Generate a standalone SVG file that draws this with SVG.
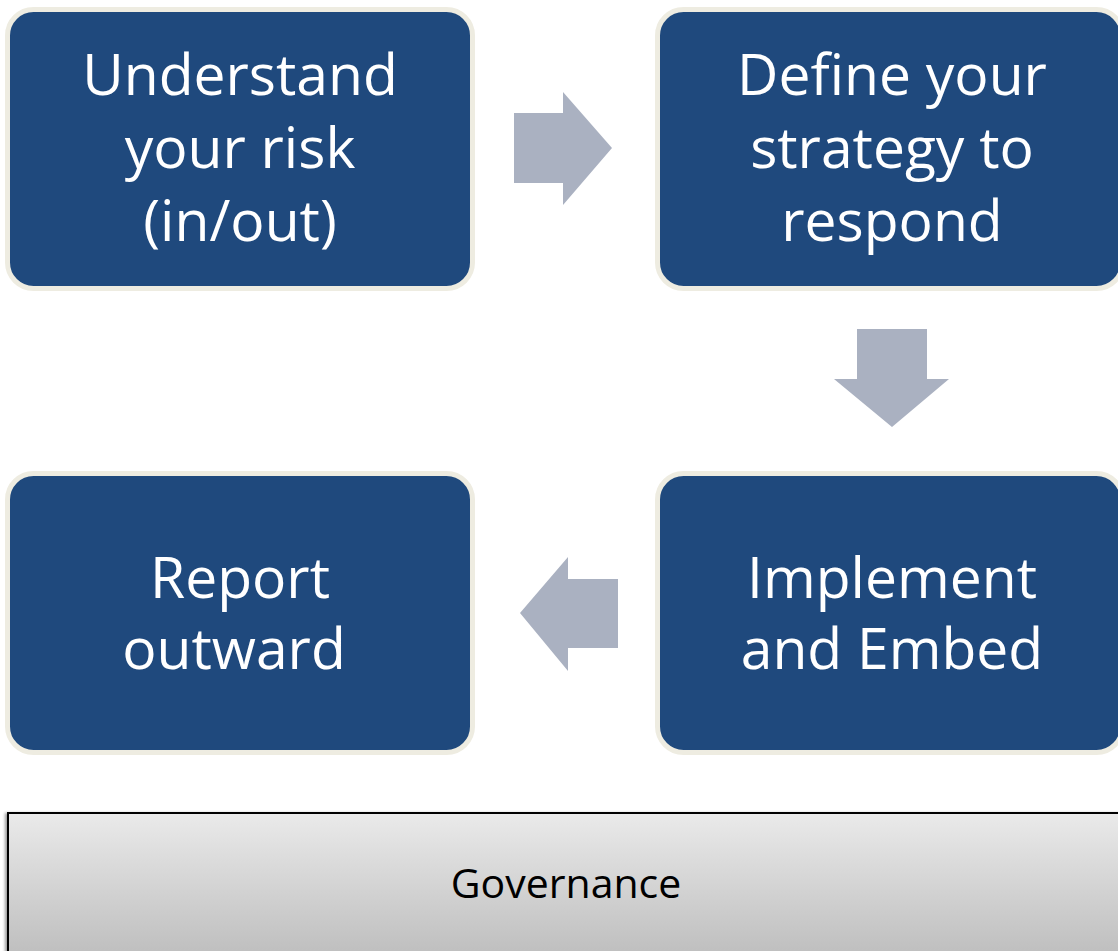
<svg xmlns="http://www.w3.org/2000/svg" width="1118" height="951" viewBox="0 0 1118 951">
<style>
.box{fill:#1F497D;stroke:#EEECE1;stroke-width:5}
.t{font-family:"Open Sans","Liberation Sans",sans-serif;font-size:57px;fill:#FFFFFF;text-anchor:middle}
.arr{fill:#AAB1C1}
.g{font-family:"Open Sans","Liberation Sans",sans-serif;font-size:41px;fill:#000000;text-anchor:middle}
</style>
<defs>
<linearGradient id="gv" x1="0" y1="0" x2="0" y2="1">
<stop offset="0" stop-color="#EAEAEA"/>
<stop offset="1" stop-color="#BCBCBC"/>
</linearGradient>
<filter id="sh" x="-5%" y="-5%" width="110%" height="120%">
<feDropShadow dx="-2" dy="1" stdDeviation="1.5" flood-color="#000" flood-opacity="0.4"/>
</filter>
</defs>
<rect width="1118" height="951" fill="#FFFFFF"/>
<g id="node-understand">
<rect class="box" x="7.5" y="9.5" width="465" height="279" rx="26"/>
<text class="t" x="240" y="95">Understand</text>
<text class="t" x="240" y="168">your risk</text>
<text class="t" x="240" y="241">(in/out)</text>
</g>
<g id="node-define">
<rect class="box" x="657.5" y="9.5" width="465" height="279" rx="26"/>
<text class="t" x="892" y="95">Define your</text>
<text class="t" x="892" y="168">strategy to</text>
<text class="t" x="892" y="241">respond</text>
</g>
<g id="node-report">
<rect class="box" x="7.5" y="473.5" width="465" height="279" rx="26"/>
<text class="t" x="240" y="598">Report</text>
<text class="t" x="234" y="669">outward</text>
</g>
<g id="node-implement">
<rect class="box" x="657.5" y="473.5" width="465" height="279" rx="26"/>
<text class="t" x="892" y="598">Implement</text>
<text class="t" x="892" y="669">and Embed</text>
</g>
<g id="connectors">
<polygon class="arr" points="514,113 563,113 563,92 612,148 563,205 563,183 514,183"/>
<polygon class="arr" points="857,329 927,329 927,379 949,379 892,427 834,379 857,379"/>
<polygon class="arr" points="618,579 568,579 568,557 520,613 568,671 568,648 618,648"/>
</g>
<g id="node-governance">
<rect x="8" y="813" width="1120" height="150" fill="url(#gv)" stroke="#000000" stroke-width="2" filter="url(#sh)"/>
<text class="g" x="566" y="898">Governance</text>
</g>
</svg>
